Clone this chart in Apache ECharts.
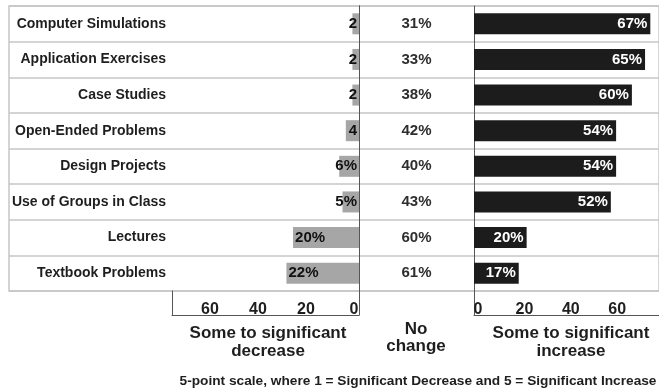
<!DOCTYPE html>
<html><head><meta charset="utf-8">
<script src="https://cdn.jsdelivr.net/npm/echarts@6/dist/echarts.min.js"></script>
<style>html,body{margin:0;padding:0;background:#fff}#c{width:659px;height:392px}</style>
</head><body><div id="c"></div>
<script>
const categories = ['Computer Simulations','Application Exercises','Case Studies','Open-Ended Problems','Design Projects','Use of Groups in Class','Lectures','Textbook Problems'];
const decreaseValues = [2,2,2,4,6,5,20,22];
const decreaseLabels = ['2','2','2','4','6%','5%','20%','22%'];
const noChangeValues = [31,33,38,42,40,43,60,61];
const increaseValues = [67,65,60,54,54,52,20,17];
const decreaseTicks = [0,20,40,60];
const increaseTicks = [0,20,40,60];
const decreaseTitle = ['Some to significant','decrease'];
const noChangeTitle = ['No','change'];
const increaseTitle = ['Some to significant','increase'];
const footnote = '5-point scale, where 1 = Significant Decrease and 5 = Significant Increase';

const FONT = '"Liberation Sans", Arial, sans-serif';
const TXT = '#1e1e1e';
const VLINE = '#555555';
const HLINE = '#c6c6c6';
const T = 6, H = 285;

const chart = echarts.init(document.getElementById('c'), null, {renderer:'canvas'});

function catAxis(gi, extra) {
  return Object.assign({
    type:'category', gridIndex:gi, data:categories, inverse:true,
    axisLine:{show:false}, axisTick:{show:false}, axisLabel:{show:false}, splitLine:{show:false}
  }, extra || {});
}
function hiddenVal(gi, extra) {
  return Object.assign({type:'value', gridIndex:gi, show:false}, extra || {});
}
function lineAxis(gi, position) {
  return {
    type:'value', gridIndex:gi, position:position, min:0, max:1,
    axisLine:{show:true, onZero:false, lineStyle:{color:VLINE, width:1}},
    axisTick:{show:false}, axisLabel:{show:false}, splitLine:{show:false}
  };
}
function tickAxis(gi, ticks, max, inverse) {
  return {
    type:'value', gridIndex:gi, position:'bottom', min:0, max:max, inverse:inverse,
    axisLine:{show:false}, axisTick:{show:false}, splitLine:{show:false},
    axisLabel:{show:true, customValues:ticks, inside:true, margin:-3,
      fontFamily:FONT, fontWeight:'bold', fontSize:16, color:TXT,
      showMinLabel:true, showMaxLabel:true}
  };
}

function gtext(text, x, y, size) {
  return {type:'text', x:x, y:y, silent:true,
    style:{text:text, fill:TXT, font:'bold ' + size + 'px ' + FONT,
      align:'center', verticalAlign:'middle', textAlign:'center', textVerticalAlign:'middle'}};
}

const option = {
  animation:false,
  grid:[
    {left:9, top:T, width:651, height:H, show:true, borderColor:HLINE, borderWidth:1.5, backgroundColor:'transparent'},
    {left:172, top:T, width:187, height:H},
    {left:359, top:T, width:115, height:H},
    {left:474, top:T, width:185, height:H},
    {left:172, top:T+H, width:187, height:24},
    {left:172, top:T+H, width:182, height:24},
    {left:474, top:T+H, width:195, height:24},
    {left:478, top:T+H, width:181, height:24}
  ],
  xAxis:[
    hiddenVal(0, {min:0, max:1}),
    hiddenVal(1, {min:0, max:56.7, inverse:true}),
    hiddenVal(2, {min:0, max:1}),
    hiddenVal(3, {min:0, max:70.3}),
    lineAxis(4, 'bottom'),
    tickAxis(5, decreaseTicks, 75.8, true),
    lineAxis(6, 'bottom'),
    tickAxis(7, increaseTicks, 78, false)
  ],
  yAxis:[
    catAxis(0, {splitLine:{show:true, lineStyle:{color:HLINE, width:1.5}}}),
    catAxis(1, {axisLine:{show:true, lineStyle:{color:VLINE, width:1}},
      axisLabel:{show:true, interval:0, margin:6, fontFamily:FONT, fontWeight:'bold', fontSize:14, color:TXT}}),
    catAxis(2, {axisLine:{show:true, lineStyle:{color:VLINE, width:1}},
      axisLabel:{show:true, interval:0, inside:true, margin:57.5, align:'center',
        fontFamily:FONT, fontWeight:'bold', fontSize:15, color:'#2e2e2e',
        formatter:function(v, i){ return noChangeValues[i] + '%'; }}}),
    catAxis(3, {axisLine:{show:true, lineStyle:{color:VLINE, width:1}}}),
    lineAxis(4, 'left'),
    lineAxis(4, 'right'),
    hiddenVal(5),
    lineAxis(6, 'left'),
    hiddenVal(7)
  ],
  series:[
    {type:'bar', xAxisIndex:1, yAxisIndex:1, barWidth:21,
      itemStyle:{color:'#a6a6a6'},
      data:decreaseValues.map(function(v){ return {value:v, label:{position: v >= 10 ? 'insideLeft' : 'insideRight'}}; }),
      label:{show:true, distance:2, fontFamily:FONT, fontWeight:'bold', fontSize:15, color:'#111',
        formatter:function(p){ return decreaseLabels[p.dataIndex]; }}},
    {type:'bar', xAxisIndex:3, yAxisIndex:3, barWidth:21,
      itemStyle:{color:'#1c1c1c'},
      data:increaseValues,
      label:{show:true, position:'insideRight', distance:3, fontFamily:FONT, fontWeight:'bold', fontSize:15, color:'#ffffff',
        formatter:'{c}%'}}
  ],
  graphic:[
    gtext(decreaseTitle[0], 268, 333, 17),
    gtext(decreaseTitle[1], 268, 351, 17),
    gtext(noChangeTitle[0], 416, 329, 17),
    gtext(noChangeTitle[1], 416, 346, 17),
    gtext(increaseTitle[0], 571, 333, 17),
    gtext(increaseTitle[1], 571, 351, 17),
    gtext(footnote, 418, 381, 13.7)
  ]
};
chart.setOption(option);
</script>
</body></html>
